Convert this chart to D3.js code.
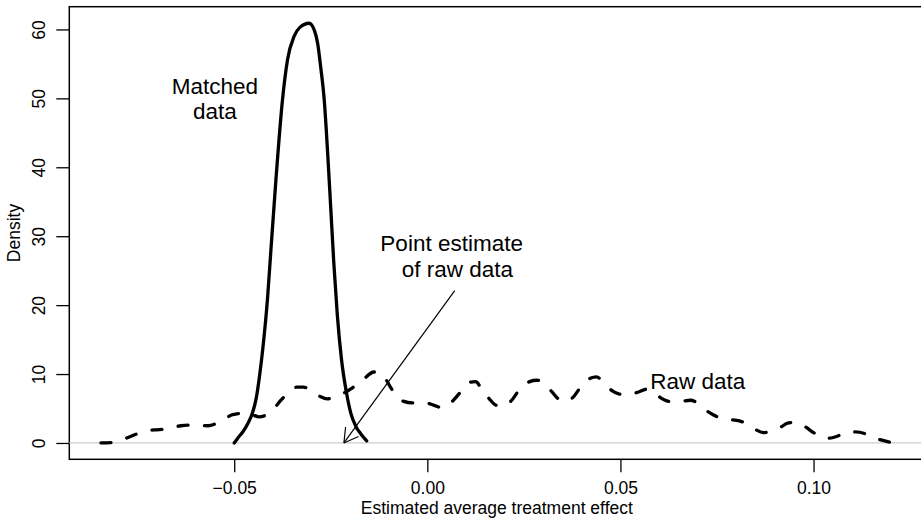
<!DOCTYPE html>
<html>
<head>
<meta charset="utf-8">
<script src="https://cdn.jsdelivr.net/npm/d3@7"></script>
<style>
  body { margin: 0; background: #fff; }
  #chart { width: 921px; height: 525px; }
  text { font-family: "Liberation Sans", Arial, sans-serif; fill: #000; }
</style>
</head>
<body>
<div id="chart"></div>
<script>
// matched data density (solid)
const matchedX = [-0.0500, -0.0491, -0.0478, -0.0465, -0.0453, -0.0443, -0.0434, -0.0425, -0.0414,
  -0.0405, -0.0392, -0.0375, -0.0362, -0.0345, -0.0330, -0.0306, -0.0292, -0.0284, -0.0276,
  -0.0267, -0.0258, -0.0250, -0.0242, -0.0233, -0.0222, -0.0210, -0.0198, -0.0185, -0.0172, -0.0157];
const matchedY = [0.0, 0.7, 1.6, 2.8, 4.3, 6.5, 9.9, 14.2, 20.8,
  28.0, 38.2, 49.8, 55.6, 59.0, 60.3, 60.9, 59.8, 58.0, 54.5,
  49.8, 42.0, 34.0, 26.0, 18.5, 12.0, 7.5, 4.3, 2.4, 1.3, 0.3];

// raw data density (dashed)
const rawX = [-0.0845, -0.0811, -0.0775, -0.0747, -0.0709, -0.0677, -0.0638, -0.0607, -0.0568, -0.0540,
  -0.0522, -0.0504, -0.0474, -0.0454, -0.0436, -0.0407, -0.0379, -0.0358, -0.0338, -0.0321,
  -0.0293, -0.0276, -0.0259, -0.0229, -0.0194, -0.0168, -0.0138, -0.0126, -0.0112, -0.0091,
  -0.0069, -0.0035, -0.0004, 0.0016, 0.0039, 0.0060, 0.0086, 0.0108, 0.0125, 0.0142,
  0.0159, 0.0177, 0.0194, 0.0215, 0.0241, 0.0265, 0.0283, 0.0302, 0.0323, 0.0337,
  0.0353, 0.0375, 0.0401, 0.0422, 0.0438, 0.0457, 0.0478, 0.0497, 0.0517, 0.0547,
  0.0567, 0.0586, 0.0612, 0.0629, 0.0651, 0.0681, 0.0699, 0.0715, 0.0740, 0.0759,
  0.0780, 0.0808, 0.0826, 0.0845, 0.0871, 0.0888, 0.0909, 0.0935, 0.0952, 0.0974,
  0.1000, 0.1020, 0.1039, 0.1067, 0.1087, 0.1108, 0.1136, 0.1157, 0.1177, 0.1205];
const rawY = [0.0, 0.1, 0.8, 1.4, 1.9, 2.0, 2.5, 2.6, 2.5, 3.0,
  3.6, 4.1, 4.3, 4.1, 3.8, 4.4, 6.2, 7.4, 8.1, 8.1,
  7.3, 6.7, 6.4, 6.9, 8.0, 9.1, 10.3, 10.3, 9.6, 7.7,
  6.2, 5.8, 5.8, 5.5, 5.1, 5.8, 7.4, 8.8, 8.9, 7.7,
  6.5, 5.5, 5.3, 6.0, 7.9, 8.9, 9.1, 8.7, 7.4, 6.5,
  6.0, 6.5, 8.4, 9.4, 9.6, 8.7, 7.6, 7.1, 7.0, 7.4,
  7.8, 7.3, 6.3, 6.0, 6.0, 6.2, 5.8, 5.0, 4.1, 3.6,
  3.4, 3.2, 2.8, 2.1, 1.5, 1.7, 2.1, 2.9, 3.0, 2.5,
  1.5, 0.8, 0.7, 1.1, 1.6, 1.6, 1.3, 0.7, 0.4, 0.0];

const xTicks = [-0.05, 0.00, 0.05, 0.10];
const yTicks = [0, 10, 20, 30, 40, 50, 60];

const pointEstimate = -0.0216;
const arrowFrom = [0.0071, 22.1];

const labels = [
  {text: "Matched", x: -0.055, y: 50.6},
  {text: "data", x: -0.055, y: 47.0},
  {text: "Point estimate", x: 0.0063, y: 27.8},
  {text: "of raw data", x: 0.0078, y: 24.1},
  {text: "Raw data", x: 0.070, y: 7.85}
];

class DensityPlot {
  constructor(id) {
    this.id = id;
    this.div = d3.select("#" + id);
    this.width = 921;
    this.height = 525;
    this.instantiateSVG();
    this.instantiateAxes();
    this.render();
  }

  instantiateSVG() {
    this.svg = this.div.append("svg")
      .attr("width", this.width)
      .attr("height", this.height);
  }

  instantiateAxes() {
    // plot box runs past the right edge of the picture
    this.x = d3.scaleLinear().domain([-0.0927, 0.1287]).range([69.3, 924.4]);
    this.y = d3.scaleLinear().domain([-2.37, 63.3]).range([459.3, 6.7]);
    const x = this.x, y = this.y;

    this.svg.append("g")
      .attr("transform", "translate(0," + y.range()[0] + ")")
      .call(d3.axisBottom(x).tickValues(xTicks).tickFormat(d3.format(".2f"))
        .tickSize(13).tickPadding(9))
      .call(g => g.select(".domain").remove())
      .call(g => g.selectAll("line").attr("stroke", "#000").attr("stroke-width", 1.3))
      .call(g => g.selectAll("text").attr("font-size", "17.5px")
        .attr("font-family", "Liberation Sans, Arial, sans-serif").attr("fill", "#000"));

    this.svg.append("g")
      .attr("transform", "translate(" + x.range()[0] + ",0)")
      .call(d3.axisLeft(y).tickValues(yTicks).tickSize(13))
      .call(g => g.select(".domain").remove())
      .call(g => g.selectAll("line").attr("stroke", "#000").attr("stroke-width", 1.3))
      .call(g => g.selectAll("text")
        .attr("x", null).attr("dy", null)
        .attr("transform", "translate(-24,0) rotate(-90)")
        .attr("text-anchor", "middle")
        .attr("font-size", "17.5px")
        .attr("font-family", "Liberation Sans, Arial, sans-serif").attr("fill", "#000"));

    // box
    this.svg.append("rect")
      .attr("x", x.range()[0]).attr("y", y.range()[1])
      .attr("width", x.range()[1] - x.range()[0])
      .attr("height", y.range()[0] - y.range()[1])
      .attr("fill", "none").attr("stroke", "#000").attr("stroke-width", 1.5);

    this.svg.append("text")
      .attr("x", (x.range()[0] + x.range()[1]) / 2)
      .attr("y", 514)
      .attr("text-anchor", "middle")
      .attr("font-size", "17.5px")
      .text("Estimated average treatment effect");

    this.svg.append("text")
      .attr("transform", "translate(20," + (y.range()[0] + y.range()[1]) / 2 + ") rotate(-90)")
      .attr("text-anchor", "middle")
      .attr("font-size", "17.5px")
      .text("Density");
  }

  render() {
    const x = this.x, y = this.y;

    // zero line
    this.svg.append("line")
      .attr("x1", x.range()[0]).attr("x2", x.range()[1])
      .attr("y1", y(0)).attr("y2", y(0))
      .attr("stroke", "#cccccc").attr("stroke-width", 1.3);

    const line = d3.line()
      .x(d => x(d[0]))
      .y(d => y(d[1]))
      .curve(d3.curveMonotoneX);

    this.svg.append("path")
      .datum(rawX.map((v, i) => [v, rawY[i]]))
      .attr("d", line)
      .attr("fill", "none")
      .attr("stroke", "#000")
      .attr("stroke-width", 3.3)
      .attr("stroke-linecap", "round")
      .attr("stroke-dasharray", "10,16.5");

    this.svg.append("path")
      .datum(matchedX.map((v, i) => [v, matchedY[i]]))
      .attr("d", line)
      .attr("fill", "none")
      .attr("stroke", "#000")
      .attr("stroke-width", 3.3)
      .attr("stroke-linejoin", "round")
      .attr("stroke-linecap", "round");

    // arrow to the point estimate
    const x0 = x(arrowFrom[0]), y0 = y(arrowFrom[1]);
    const x1 = x(pointEstimate), y1 = y(0);
    const ang = Math.atan2(y1 - y0, x1 - x0);
    const headLen = 16;
    this.svg.append("line")
      .attr("x1", x0).attr("y1", y0).attr("x2", x1).attr("y2", y1)
      .attr("stroke", "#000").attr("stroke-width", 1.2);
    [-Math.PI / 6, Math.PI / 6].forEach(a => {
      this.svg.append("line")
        .attr("x1", x1).attr("y1", y1)
        .attr("x2", x1 - headLen * Math.cos(ang + a))
        .attr("y2", y1 - headLen * Math.sin(ang + a))
        .attr("stroke", "#000").attr("stroke-width", 1.2);
    });

    this.svg.selectAll("text.note")
      .data(labels)
      .enter().append("text")
        .attr("class", "note")
        .attr("x", d => x(d.x))
        .attr("y", d => y(d.y))
        .attr("text-anchor", "middle")
        .attr("font-size", "22.5px")
        .text(d => d.text);
  }
}

new DensityPlot("chart");
</script>
</body>
</html>
